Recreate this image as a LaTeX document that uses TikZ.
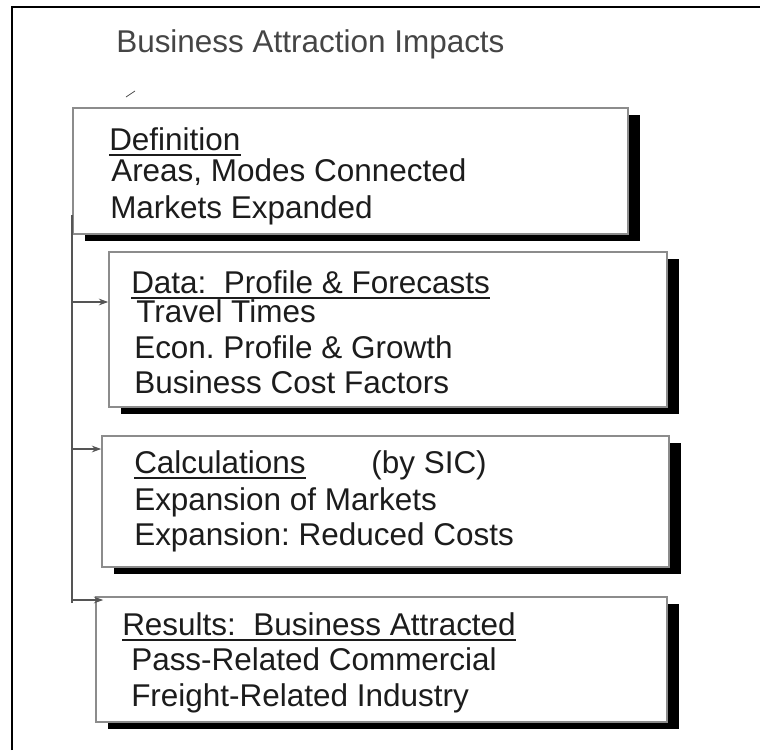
\documentclass[tikz,border=0pt]{standalone}
\usepackage{fontspec}
\setmainfont{Liberation Sans}
\usetikzlibrary{arrows.meta,fit,shadows}

\definecolor{boxgray}{HTML}{8C8C8C}
\definecolor{linkgray}{HTML}{555555}
\definecolor{titlegray}{HTML}{454545}
\definecolor{inkgray}{HTML}{1C1C1C}

\tikzset{
    bizbox/.style={draw=boxgray, line width=1.2pt, fill=white, inner sep=0pt,
        drop shadow={shadow xshift=9pt, shadow yshift=-5.5pt, fill=black, opacity=1}},
    txt/.style={anchor=base west, inner sep=0pt, text=inkgray,
        font=\fontsize{23.6}{28}\selectfont},
    link/.style={draw=linkgray, line width=1.1pt, -{Stealth[length=7pt,width=5pt]}},
    ul/.style={draw=inkgray, line width=1.5pt}
}

\begin{document}
\frenchspacing
\begin{tikzpicture}[x=0.75pt,y=-0.75pt]
        \useasboundingbox (0,0) rectangle (760,750);
        \draw[line width=1.6pt] (12,750) -- (12,7) -- (760,7);
        \node[txt, text=titlegray] (title) at (116,52) {Business Attraction Impacts};
        \draw[line width=0.6pt, black!70] (126,97) -- (135,91);

        % the four stages
        \node[bizbox, fit={(73,108) (628,234)}] (defn) {};
        \node[bizbox, fit={(109,252) (667,407)}] (data) {};
        \node[bizbox, fit={(102,436) (669,567)}] (calc) {};
        \node[bizbox, fit={(96,597) (667,722)}] (res) {};

        \node[txt] (defnA) at (109,150) {Definition};
        \node[txt] (defnB) at (111,181) {Areas, Modes Connected};
        \node[txt] (defnC) at (110,218) {Markets Expanded};

        \node[txt] (dataA) at (131,293) {Data:\ \ Profile \& Forecasts};
        \node[txt] (dataB) at (136,322) {Travel Times};
        \node[txt] (dataC) at (134,358) {Econ. Profile \& Growth};
        \node[txt] (dataD) at (134,393) {Business Cost Factors};

        \node[txt] (calcA) at (134,473) {Calculations};
        \node[txt, anchor=base east] (calcS) at (487,473) {(by SIC)};
        \node[txt] (calcB) at (134,510) {Expansion of Markets};
        \node[txt] (calcC) at (134,545) {Expansion: Reduced Costs};

        \node[txt] (resA) at (122,635) {Results:\ \ Business Attracted};
        \node[txt] (resB) at (131,670) {Pass-Related Commercial};
        \node[txt] (resC) at (131,706) {Freight-Related Industry};

        \foreach \hd in {defnA, dataA, calcA, resA}
            \draw[ul] ([yshift=-3.6pt]\hd.base west) -- ([yshift=-3.6pt]\hd.base east);

        % feed line on the left
        \coordinate (top) at (72,215);
        \coordinate (bot) at (72,603);
        \coordinate (j1) at (72,302);
        \coordinate (j2) at (72,449);
        \coordinate (j3) at (72,600);
        \draw[linkgray, line width=1.1pt] (top) -- (bot);
        \draw[link] (j1) -- (j1 -| data.west);
        \draw[link] (j2) -- (j2 -| calc.west);
        \draw[link] (j3) -- ([xshift=6pt]j3 -| res.west);
    \end{tikzpicture}
\end{document}
